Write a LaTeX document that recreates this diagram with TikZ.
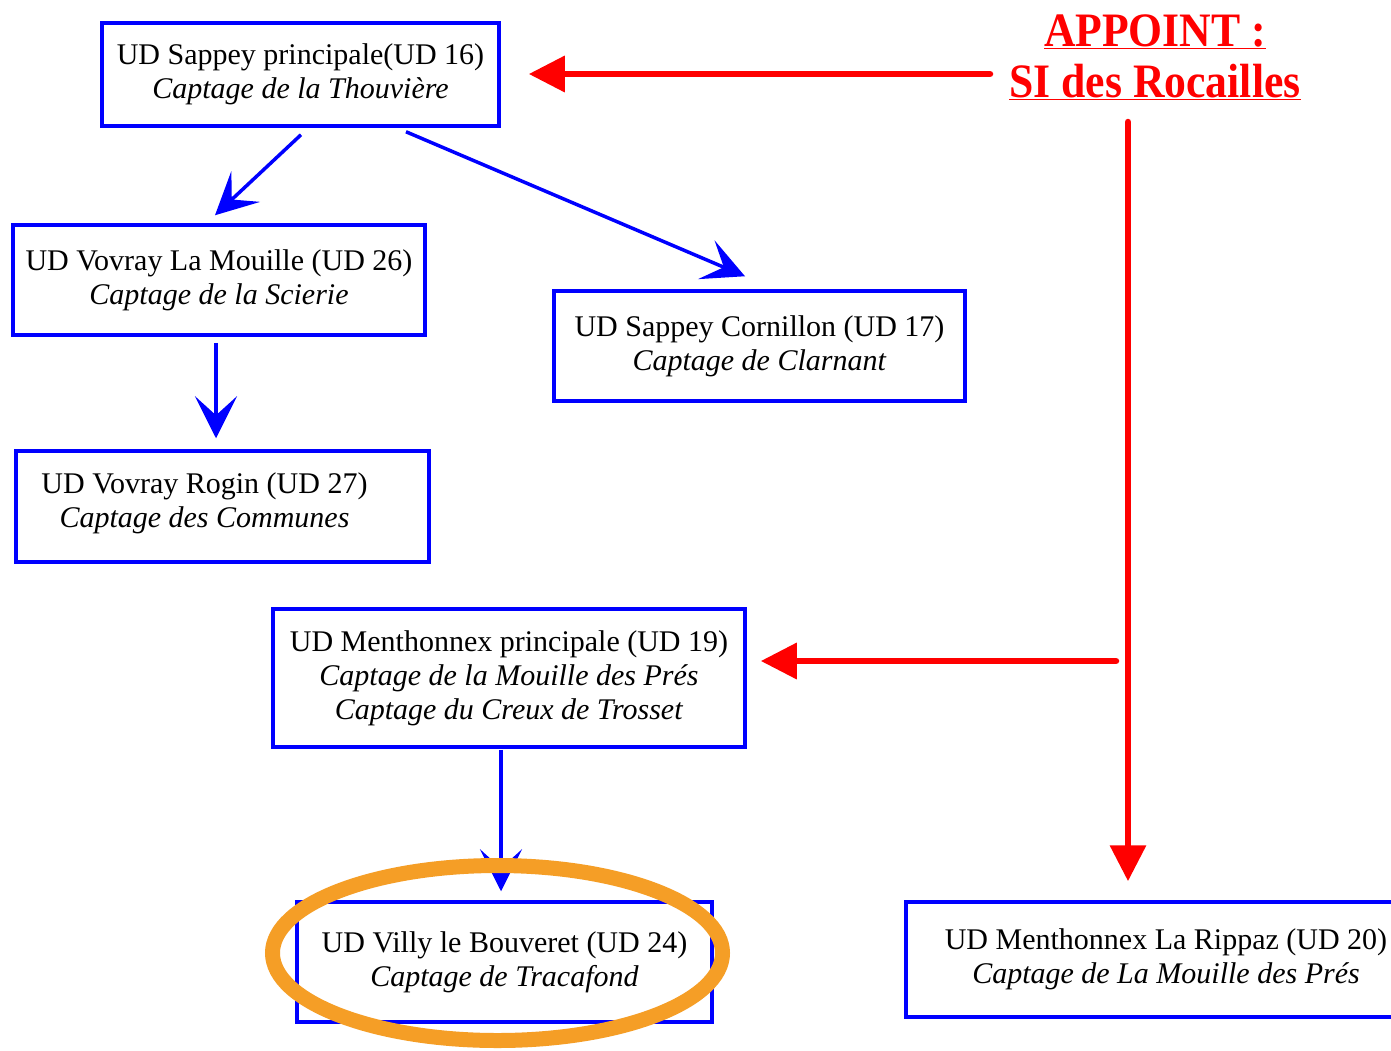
\documentclass[tikz,border=0pt]{standalone}
\usepackage{fontspec}
\setmainfont{Liberation Serif}
\usetikzlibrary{arrows.meta}
\definecolor{udblue}{RGB}{0,0,255}
\definecolor{appred}{RGB}{255,0,0}
\definecolor{ringorange}{RGB}{245,158,38}

\begin{document}
\begin{tikzpicture}[x=1pt,y=-1pt,
  udbox/.style={draw=udblue, line width=3.5pt, inner sep=0pt, align=center,
                font=\fontsize{30}{34}\selectfont, text=black},
  udtext/.style={inner sep=0pt, align=center, font=\fontsize{30}{34}\selectfont, text=black},
  flow/.style={draw=udblue, line width=3.5pt,
               -{Stealth[length=42pt,width=42pt,inset=19pt]}},
  supply/.style={draw=appred, line width=6.5pt, line cap=round,
                 -{Triangle[length=36pt,width=35pt]}},
]
\clip (0,0) rectangle (1391,1050);
\fill[white] (0,0) rectangle (1391,1050);

% distribution units
\node[udbox, minimum width=397pt, minimum height=103pt] (b16) at (300.5,74.5)
  {UD Sappey principale(UD 16)\\\textit{Captage de la Thouvière}};
\node[udbox, minimum width=412pt, minimum height=110pt] (b26) at (219,280)
  {UD Vovray La Mouille (UD 26)\\\textit{Captage de la Scierie}};
\node[udbox, minimum width=411pt, minimum height=110pt] (b17) at (759.5,346)
  {UD Sappey Cornillon (UD 17)\\\textit{Captage de Clarnant}};
\node[udbox, minimum width=413pt, minimum height=111pt] (b27) at (222.5,506.5) {};
\node[udtext] (b27txt) at ([shift={(-18,-3)}]b27.center)
  {UD Vovray Rogin (UD 27)\\\textit{Captage des Communes}};
\node[udbox, minimum width=472pt, minimum height=138pt] (b19) at (509,678)
  {UD Menthonnex principale (UD 19)\\\textit{Captage de la Mouille des Prés}\\\textit{Captage du Creux de Trosset}};
\node[udbox, minimum width=415pt, minimum height=120pt] (b24) at (504.5,962)
  {UD Villy le Bouveret (UD 24)\\\textit{Captage de Tracafond}};
\node[udbox, minimum width=520pt, minimum height=115pt] (b20) at (1166,959.5)
  {UD Menthonnex La Rippaz (UD 20)\\\textit{Captage de La Mouille des Prés}};

% external supply
\node[inner sep=0pt, align=center, text=appred,
      font=\fontsize{48}{51}\selectfont\bfseries] (appoint) at (1155,57)
  {\scalebox{0.91}[1]{\underline{APPOINT :}}\\\scalebox{0.91}[1]{\underline{SI des Rocailles}}};

% gravity flows between units
\draw[flow] ([shift={(0.5,7)}]b16.south) -- ([shift={(-4,-8)}]b26.north);
\draw[flow] ([shift={(105.5,4)}]b16.south) -- ([shift={(-14.5,-13)}]b17.north);
\draw[flow] ([shift={(-3,6)}]b26.south) -- ([shift={(-6.5,-11)}]b27.north);
\draw[flow] ([shift={(-8,1)}]b19.south) -- ([shift={(-3.5,-9)}]b24.north);

% supply lines
\coordinate (topsrc) at (990,74);
\coordinate (downsrc) at (1128,122);
\coordinate (branch) at (1116,661);
\draw[supply, shorten >=28pt] (topsrc) -- (topsrc -| b16.east);
\draw[supply, shorten >=19pt] (downsrc) -- (downsrc |- b20.north);
\draw[supply, shorten >=14pt] (branch) -- (branch -| b19.east);

% highlight ring
\draw[ringorange, line width=15pt] (497.5,953) ellipse [x radius=225pt, y radius=87.5pt];
\end{tikzpicture}
\end{document}
